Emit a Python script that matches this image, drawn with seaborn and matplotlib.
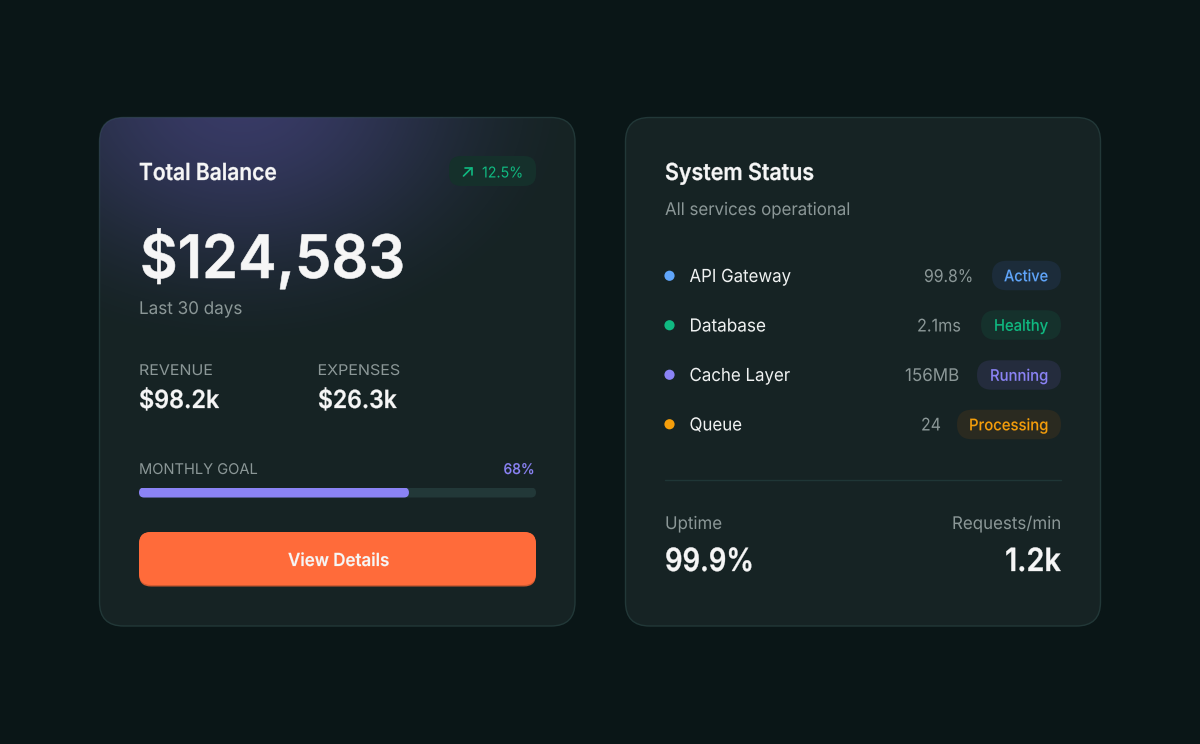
import numpy as np
import pandas as pd
import seaborn as sns
import matplotlib
matplotlib.use('Agg')
import matplotlib.pyplot as plt
from matplotlib.patches import FancyBboxPatch
from matplotlib.patheffects import AbstractPathEffect
from matplotlib.transforms import Affine2D

#Values
balance = "$124,583"
changePct = "12.5%"
revenue = "$98.2k"
expenses = "$26.3k"
goalPct = 68
serviceNames = ["API Gateway", "Database", "Cache Layer", "Queue"]
serviceValues = ["99.8%", "2.1ms", "156MB", "24"]
serviceStates = ["Active", "Healthy", "Running", "Processing"]
uptime = "99.9%"
requests = "1.2k"

#Layout and colours, in pixels of the 1200x744 picture
rowColors = ["#60a5fa", "#10b981", "#8b83f5", "#f59e0b"]
rowFills = ["#1c2c3a", "#15312c", "#242c3d", "#2a2a20"]
rowBaselines = [282, 331.5, 381, 430.5]
rowCenters = [275.5, 325, 375, 424.5]
pillLefts = [992, 981, 977, 957]
valueRights = [973, 961, 959, 941]
nameWidths = [101.5, 76.5, 100.5, 52.5]
valueWidths = [49, 44, 54, 20]
stateWidths = [44, 54, 58, 79]

BG = "#0a1617"
CARD = "#162324"
EDGE = "#223838"
WHITE = "#f6f6f6"
MUTED = "#8b9797"

sns.set_theme(style="white")
plt.rcParams['font.family'] = ['Inter', 'DejaVu Sans']

W, H = 1200, 744
fig = plt.figure(figsize=(12, 7.44), dpi=100, facecolor=BG)
ax = fig.add_axes([0, 0, 1, 1])
ax.set_xlim(0, W)
ax.set_ylim(H, 0)
ax.axis('off')
renderer = fig.canvas.get_renderer()


class Squeeze(AbstractPathEffect):
    #scales a text horizontally around its anchor, the tracking of the original is tighter
    def __init__(self, x0, factor, stroke):
        super().__init__()
        self.x0 = x0
        self.factor = factor
        self.stroke = stroke

    def draw_path(self, renderer, gc, tpath, affine, rgbFace=None):
        squeezed = affine + Affine2D().translate(-self.x0, 0).scale(self.factor, 1).translate(self.x0, 0)
        gc0 = renderer.new_gc()
        gc0.copy_properties(gc)
        if self.stroke > 0:
            gc0.set_foreground(rgbFace)
            gc0.set_linewidth(self.stroke)
        else:
            gc0.set_linewidth(0)
        renderer.draw_path(gc0, tpath, squeezed, rgbFace)
        gc0.restore()


def rounded(x0, y0, x1, y1, r, fc, ec='none', lw=0, z=2):
    p = FancyBboxPatch((x0 + r, y0 + r), x1 - x0 - 2 * r, y1 - y0 - 2 * r,
                       boxstyle=f"round,pad={r},rounding_size={r}",
                       fc=fc, ec=ec, lw=lw, zorder=z)
    ax.add_patch(p)
    return p


def label(x, y, s, px, width, color=WHITE, weight='normal', ha='left', stroke=0):
    #px is the css font size, width the width of the text in the picture
    t = ax.text(x, y, s, fontsize=px * 0.72, color=color, fontweight=weight,
                ha=ha, va='baseline', zorder=6)
    measured = t.get_window_extent(renderer).width
    t.set_path_effects([Squeeze(x, width / measured, stroke)])
    return t


#Cards
rounded(99.5, 117.5, 575, 626, 24, CARD, EDGE, 1)
rounded(625.5, 117.5, 1100.5, 626, 24, CARD, EDGE, 1)

#Purple glow in the top left corner of the first card
xx, yy = np.meshgrid(np.arange(99, 576), np.arange(117, 627))
dist = np.sqrt(((xx - 240) / 350) ** 2 + ((yy - 95) / 265) ** 2)
fade = np.clip(1 - dist, 0, 1)
glow = np.zeros(xx.shape + (4,))
glow[..., :3] = matplotlib.colors.to_rgb("#4f4a92")
glow[..., 3] = fade * fade * (3 - 2 * fade) * 0.6
img = ax.imshow(glow, extent=(99, 576, 627, 117), zorder=3, interpolation='bilinear')
ax.set_xlim(0, W)
ax.set_ylim(H, 0)
ax.set_aspect('auto')
img.set_clip_path(FancyBboxPatch((123.5, 141.5), 427.5, 460.5,
                                 boxstyle="round,pad=24,rounding_size=24",
                                 transform=ax.transData))

#Left card text
label(139, 180, "Total Balance", 23.5, 138, weight=600, stroke=0.2)
rounded(449, 156, 536, 186, 12, "#15302b", z=4)
ax.plot([463.5, 471.5], [176, 168], color=rowColors[1], lw=1.2, zorder=6, solid_capstyle='round')
ax.plot([465, 471.5, 471.5], [168, 168, 174.5], color=rowColors[1], lw=1.2, zorder=6,
        solid_capstyle='round', solid_joinstyle='miter')
label(523, 177.5, changePct, 15, 41, rowColors[1], 'normal', ha='right')
label(140, 278, balance, 60, 265, weight=600, stroke=0.4)
label(139, 314, "Last 30 days", 17.5, 103, MUTED)
label(139, 375, "REVENUE", 14.8, 73, MUTED)
label(139, 408, revenue, 25, 80, weight=600, stroke=0.2)
label(317.5, 375, "EXPENSES", 14.8, 82, MUTED)
label(318, 408, expenses, 25, 78.5, weight=600, stroke=0.2)
label(139, 474, "MONTHLY GOAL", 14.8, 118, MUTED)
label(534.5, 474, f"{goalPct}%", 14.8, 31, rowColors[2], 500, ha='right', stroke=0.1)

#Progress bar, a seaborn bar on its own axes
barAx = fig.add_axes([139 / W, 1 - 497.5 / H, 397 / W, 10 / H])
goalData = pd.DataFrame({"part": ["goal"], "track": [100], "done": [goalPct]})
sns.barplot(data=goalData, x="track", y="part", color="#223838", saturation=1, width=1, linewidth=0, ax=barAx)
sns.barplot(data=goalData, x="done", y="part", color=rowColors[2], saturation=1, width=1, linewidth=0, ax=barAx)
barAx.set_xlim(0, 100)
barAx.axis('off')
for i, bar in enumerate(barAx.patches):
    endPx = 397 * (1 if i == 0 else goalPct / 100)
    clip = FancyBboxPatch((5, 5), endPx - 10, 0, boxstyle="round,pad=5,rounding_size=5",
                          transform=Affine2D().translate(139, H - 497.5))
    bar.set_clip_path(clip)

#Button with darker bottom edge
rounded(139, 532, 536, 586.5, 12, "#d05a30", z=4)
rounded(139, 532, 536, 585, 12, "#ff6b3a", z=5)
label(338.5, 566, "View Details", 18, 101, WHITE, 600, ha='center', stroke=0.12)

#Right card text
label(665, 180, "System Status", 23.5, 149, weight=600, stroke=0.2)
label(665, 215, "All services operational", 17.5, 185, MUTED)

#Status dots, seaborn scatter with rows on the y axis
dotAx = fig.add_axes([659.5 / W, 1 - 449 / H, 20 / W, 198 / H])
dotData = pd.DataFrame({"row": np.arange(len(serviceNames)), "x": 0, "name": serviceNames})
sns.scatterplot(data=dotData, x="x", y="row", hue="name", palette=rowColors, s=54,
                linewidth=0, legend=False, ax=dotAx)
dotAx.set_xlim(-1, 1)
dotAx.set_ylim(3.5, -0.5)
dotAx.axis('off')
dotAx.patch.set_alpha(0)

for i in range(len(serviceNames)):
    label(689.5, rowBaselines[i], serviceNames[i], 18, nameWidths[i], "#f0f2f2")
    label(valueRights[i], rowBaselines[i], serviceValues[i], 17.5, valueWidths[i], MUTED, ha='right')
    rounded(pillLefts[i], rowCenters[i] - 14.75, 1061, rowCenters[i] + 14.75, 14.75, rowFills[i], z=4)
    label(1048, rowCenters[i] + 5.8, serviceStates[i], 16, stateWidths[i], rowColors[i], 500, ha='right', stroke=0.06)

ax.plot([665, 1061], [479.5, 479.5], color="#1f3636", lw=1, zorder=4)
label(665, 529, "Uptime", 17.5, 57, MUTED)
label(665, 571, uptime, 32, 89, weight=600, stroke=0.25)
label(1061, 529, "Requests/min", 17.5, 109, MUTED, ha='right')
label(1061, 571, requests, 32, 56, weight=600, ha='right', stroke=0.25)

fig.savefig("out.png", dpi=100, facecolor=BG)
